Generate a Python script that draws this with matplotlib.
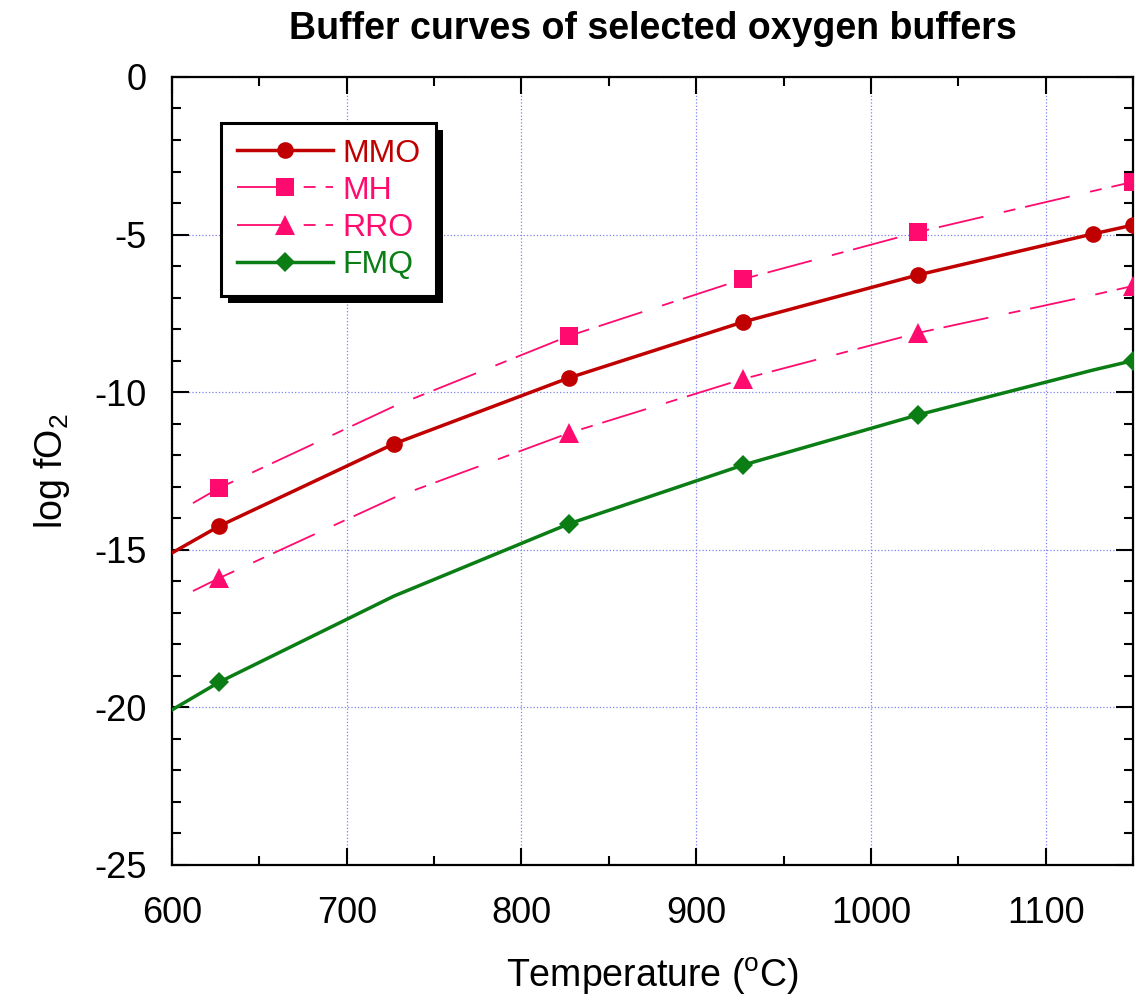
import numpy as np
import matplotlib
matplotlib.use('Agg')
import matplotlib.pyplot as plt
from matplotlib.patches import Rectangle
from matplotlib.ticker import MultipleLocator

plt.rcParams['font.family'] = ['Liberation Sans', 'DejaVu Sans']
plt.rcParams['mathtext.fontset'] = 'custom'
plt.rcParams['mathtext.rm'] = 'Liberation Sans'
plt.rcParams['mathtext.it'] = 'Liberation Sans:italic'
plt.rcParams['axes.unicode_minus'] = False

# temperatures (degC) and log fO2 values
T_mmo = [600, 627, 727, 827, 927, 1027, 1127, 1150]
mmo = [-15.10, -14.25, -11.64, -9.55, -7.77, -6.28, -4.98, -4.70]

T_mh = [612, 627, 727, 827, 927, 1027, 1127, 1150]
mh = [-13.52, -13.04, -10.45, -8.22, -6.41, -4.92, -3.62, -3.33]

T_rro = [612, 627, 727, 827, 927, 1027, 1127, 1150]
rro = [-16.31, -15.90, -13.35, -11.30, -9.58, -8.12, -6.92, -6.63]

T_fmq = [600, 627, 727, 827, 927, 1027, 1127, 1150]
fmq = [-20.08, -19.20, -16.47, -14.18, -12.31, -10.72, -9.30, -9.00]

red = '#C00000'
pink = '#FF0A6E'
green = '#0A7D14'

fig = plt.figure(figsize=(11.36, 10.06), dpi=100)
ax = fig.add_axes([0.1514, 0.1402, 0.8460, 0.7833])

lw_thin = 1.3
dash = (0, (33 / lw_thin, 15 / lw_thin, 8.6 / lw_thin, 7.2 / lw_thin))

ax.plot(T_mmo, mmo, color=red, lw=2.5, marker='o', ms=12, mew=0,
        markevery=[1, 2, 3, 4, 5, 6, 7], label='MMO', zorder=3)
ax.plot(T_mh, mh, color=pink, lw=lw_thin, ls=dash, marker='s', ms=13.5, mew=0,
        markevery=[1, 3, 4, 5, 7], label='MH', zorder=3)
ax.plot(T_rro, rro, color=pink, lw=lw_thin, ls=dash, marker='^', ms=14, mew=0,
        markevery=[1, 3, 4, 5, 7], label='RRO', zorder=3)
ax.plot(T_fmq, fmq, color=green, lw=2.5, marker='D', ms=10, mew=0,
        markevery=[1, 3, 4, 5, 7], label='FMQ', zorder=3)

ax.set_xlim(600, 1150)
ax.set_ylim(-25, 0)
ax.xaxis.set_major_locator(MultipleLocator(100))
ax.xaxis.set_minor_locator(MultipleLocator(50))
ax.yaxis.set_major_locator(MultipleLocator(5))
ax.yaxis.set_minor_locator(MultipleLocator(1))

ax.grid(True, which='major', color='#8080F0', ls=':', lw=0.9)
ax.set_axisbelow(True)
for s in ax.spines.values():
    s.set_linewidth(1.6)
ax.tick_params(which='both', direction='in', top=True, right=True, width=1.5,
               labelsize=26)
ax.tick_params(which='major', length=12)
ax.tick_params(which='minor', length=6.5)
ax.tick_params(axis='x', which='major', pad=22)
ax.tick_params(axis='y', which='major', pad=18)

ax.set_title('Buffer curves of selected oxygen buffers', fontsize=27,
             fontweight='bold', pad=27)
ax.set_xlabel('Temperature ($^\\mathrm{o}$C)', fontsize=27, labelpad=18)
ax.set_ylabel('log fO$_2$', fontsize=27, labelpad=16)

leg = ax.legend(loc='upper left', bbox_to_anchor=(0.051, 0.942),
                borderaxespad=0, fontsize=23, labelcolor='linecolor',
                fancybox=False, framealpha=1, edgecolor='black',
                handlelength=3.0, handletextpad=0.3, labelspacing=0.22,
                borderpad=0.5)
leg.get_frame().set_linewidth(2.2)

# hard black drop shadow behind the legend box
fig.canvas.draw()
bb = leg.get_window_extent()
inv = ax.transAxes.inverted()
(x0, y0), (x1, y1) = inv.transform([[bb.x0 + 7, bb.y0 - 7], [bb.x1 + 7, bb.y1 - 7]])
ax.add_patch(Rectangle((x0, y0), x1 - x0, y1 - y0, transform=ax.transAxes,
                       facecolor='black', edgecolor='none', zorder=4.9,
                       clip_on=False))

fig.savefig('out.png', dpi=100)
